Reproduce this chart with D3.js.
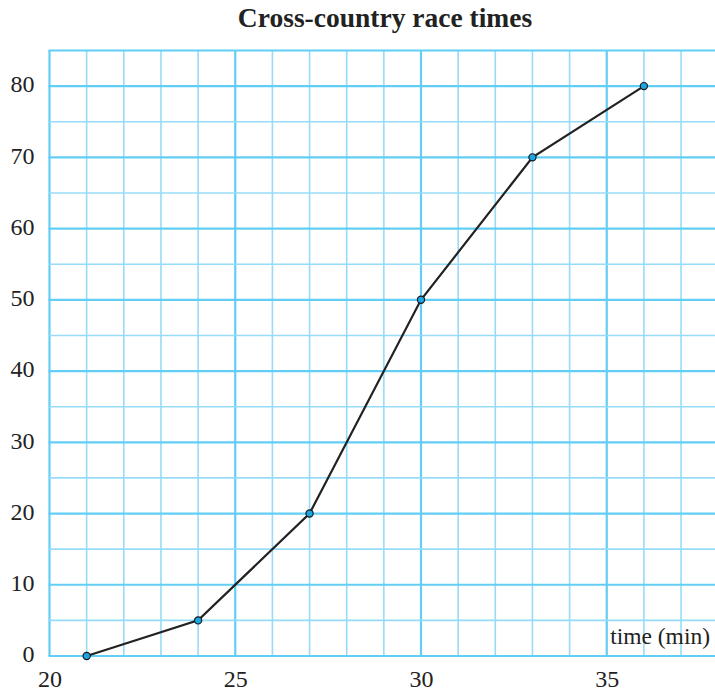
<!DOCTYPE html>
<html>
<head>
<meta charset="utf-8">
<script src="https://cdn.jsdelivr.net/npm/d3@7"></script>
<style>
  html, body { margin: 0; padding: 0; background: #fff; }
  svg { display: block; }
</style>
</head>
<body>
<svg id="chart" width="715" height="693"></svg>
<script>
const title = "Cross-country race times";
const xLabel = "time (min)";
const times = [21, 24, 27, 30, 33, 36];
const cumFreq = [0, 5, 20, 50, 70, 80];
const xTicks = [20, 25, 30, 35];
const yTicks = [0, 10, 20, 30, 40, 50, 60, 70, 80];

const svg = d3.select("#chart");
const W = 715, H = 693;
const x = d3.scaleLinear().domain([20, 38]).range([49.5, 49.5 + 18 * 37.15]);
const y = d3.scaleLinear().domain([0, 85]).range([656, 50.5]);

const grid = svg.append("g");
const xLines = d3.range(20, 39, 1);
const yLines = d3.range(0, 86, 5);
const majorC = "#62cdf5", minorC = "#96dcf8";

grid.selectAll("line.v").data(xLines).enter().append("line")
  .attr("x1", d => x(d)).attr("x2", d => x(d))
  .attr("y1", y(0)).attr("y2", y(85))
  .attr("stroke", d => d % 5 === 0 ? majorC : minorC)
  .attr("stroke-width", d => d % 5 === 0 ? 2.2 : 1.6);

grid.selectAll("line.h").data(yLines).enter().append("line")
  .attr("x1", x(20) - 1).attr("x2", W)
  .attr("y1", d => y(d)).attr("y2", d => y(d))
  .attr("stroke", d => (d % 10 === 0 || d === 85) ? majorC : minorC)
  .attr("stroke-width", d => (d % 10 === 0 || d === 85) ? 2.2 : 1.6);

const fontFam = "'Liberation Serif', 'Times New Roman', serif";
const yAxis = svg.append("g").attr("transform", `translate(${x(20) - 15},0)`)
  .call(d3.axisLeft(y).tickValues(yTicks).tickSize(0).tickPadding(0));
yAxis.attr("font-family", fontFam).attr("font-size", 24);
yAxis.select(".domain").remove();
yAxis.selectAll("text").attr("fill", "#222").attr("dy", "0.24em");

const xAxis = svg.append("g").attr("transform", `translate(0,${y(0) + 31})`)
  .call(d3.axisBottom(x).tickValues(xTicks).tickSize(0).tickPadding(0));
xAxis.attr("font-family", fontFam).attr("font-size", 24);
xAxis.select(".domain").remove();
xAxis.selectAll("text").attr("fill", "#222").attr("dy", "0em");

svg.append("text").attr("x", 710).attr("y", 644).attr("text-anchor", "end")
  .attr("font-family", fontFam).attr("font-size", 23.5).attr("fill", "#222").text(xLabel);

svg.append("text").attr("x", 385).attr("y", 27).attr("text-anchor", "middle")
  .attr("font-family", fontFam).attr("font-weight", "bold").attr("font-size", 27.5).attr("fill", "#222").text(title);

const data = times.map((t, i) => ({t, c: cumFreq[i]}));
svg.append("path").datum(data)
  .attr("d", d3.line().x(d => x(d.t)).y(d => y(d.c)))
  .attr("fill", "none").attr("stroke", "#222").attr("stroke-width", 2.2);

svg.selectAll("circle").data(data).enter().append("circle")
  .attr("cx", d => x(d.t)).attr("cy", d => y(d.c)).attr("r", 3.6)
  .attr("fill", "#1aa6e2").attr("stroke", "#1a1a1a").attr("stroke-width", 1.2);
</script>
</body>
</html>
